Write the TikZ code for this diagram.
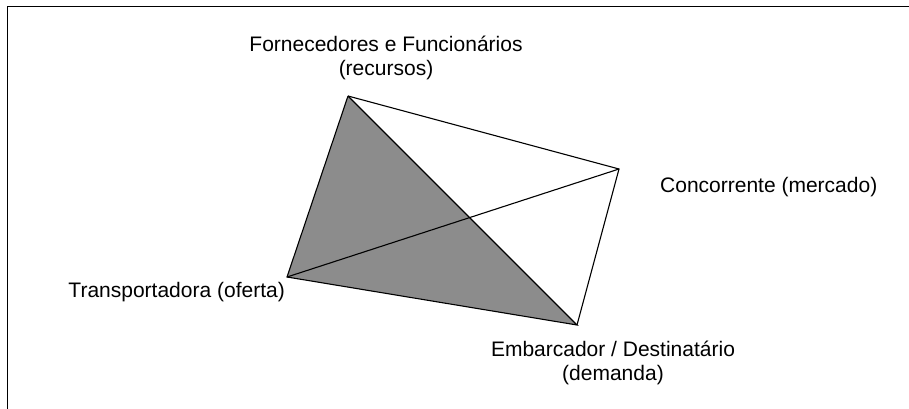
\documentclass[tikz,border=0pt]{standalone}
\usepackage{fontspec}
\setmainfont{Liberation Sans}
\usetikzlibrary{positioning}
\definecolor{fillgray}{RGB}{140,140,140}

\begin{document}
\begin{tikzpicture}[x=1pt, y=-1pt, edge/.style={line width=1.1pt}, lbl/.style={font=\fontsize{21}{24}\selectfont, align=center, inner sep=0pt}]
  \useasboundingbox (0,0) rectangle (909,409);
  \draw[line width=1.6pt] (7.5,409) -- (7.5,6.7) -- (909,6.7);

  \coordinate (forn) at (348,96);
  \coordinate (conc) at (619,169);
  \coordinate (transp) at (287,277);
  \coordinate (embarc) at (577,325);

  \fill[fillgray] (forn) -- (transp) -- (embarc) -- cycle;
  \draw[edge] (forn) -- (transp) -- (embarc) -- (forn);
  \draw[edge] (forn) -- (conc) -- (embarc);
  \draw[edge] (transp) -- (conc);

  \node[lbl, anchor=north] (forn_l) at (386,35.5) {Fornecedores e Funcionários\\(recursos)};
  \node[lbl, anchor=base west] (conc_l) at (660,192) {Concorrente (mercado)};
  \node[lbl, anchor=base east] (transp_l) at (285,297) {Transportadora (oferta)};
  \node[lbl, anchor=north] (embarc_l) at (613,340.5) {Embarcador / Destinatário\\(demanda)};
\end{tikzpicture}
\end{document}
